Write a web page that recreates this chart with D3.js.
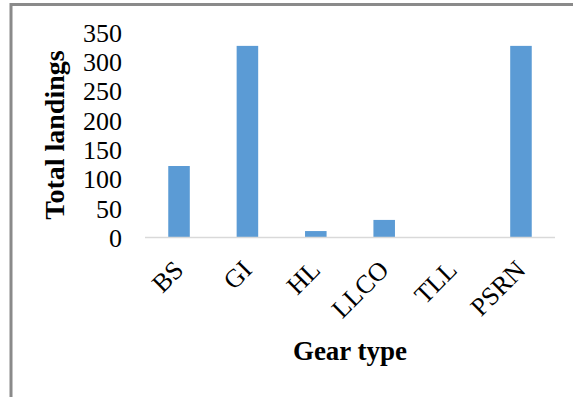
<!DOCTYPE html>
<html>
<head>
<meta charset="utf-8">
<script src="https://cdn.jsdelivr.net/npm/d3@7"></script>
<style>
  body { margin: 0; background: #fff; }
  svg { display: block; }
  text { font-family: "Liberation Serif", "Times New Roman", serif; fill: #000; }
</style>
</head>
<body>
<svg id="chart"></svg>
<script>
const gears = ["BS", "GI", "HL", "LLCO", "TLL", "PSRN"];
const landings = [122, 327, 11, 30, 0, 327];
const yTicks = [0, 50, 100, 150, 200, 250, 300, 350];

const width = 573, height = 397;
const svg = d3.select("#chart").attr("width", width).attr("height", height);

// frame (left + top edges only are visible in the original crop)
svg.append("path")
    .attr("d", `M11,${height} V4.5 H${width}`)
    .attr("fill", "none")
    .attr("stroke", "#8a8a8a")
    .attr("stroke-width", 3);

const x = d3.scaleBand().domain(gears).range([145, 555]).paddingInner(0.685).paddingOuter(0.34);
const y = d3.scaleLinear().domain([0, 350]).range([237.5, 32.4]);

// y axis labels
const yAxis = svg.append("g")
    .attr("transform", "translate(122,0)")
    .call(d3.axisLeft(y).tickValues(yTicks).tickSize(0).tickPadding(0));
yAxis.select(".domain").remove();
yAxis.selectAll("text")
    .style("font-family", "Liberation Serif")
    .style("font-size", "26px")
    .attr("dy", "0.34em");

// bars
svg.append("g").selectAll("rect")
    .data(gears)
    .join("rect")
    .attr("x", d => x(d))
    .attr("width", x.bandwidth())
    .attr("y", (d, i) => y(landings[i]))
    .attr("height", (d, i) => y(0) - y(landings[i]))
    .attr("fill", "#5b9bd5");

// x axis
const xAxis = svg.append("g")
    .attr("transform", `translate(0,${y(0)})`)
    .call(d3.axisBottom(x).tickSize(0).tickPadding(0));
xAxis.select(".domain").attr("stroke", "#d9d9d9").attr("stroke-width", 1.5)
    .attr("d", "M145,0H555");
xAxis.selectAll("text")
    .style("font-family", "Liberation Serif")
    .style("font-size", "26px")
    .attr("text-anchor", "end")
    .attr("y", 0)
    .attr("dy", "0")
    .attr("transform", "translate(6,34) rotate(-45)");

// axis titles
svg.append("text")
    .attr("transform", "translate(64,135) rotate(-90)")
    .attr("text-anchor", "middle")
    .style("font-size", "28px")
    .style("font-weight", "bold")
    .text("Total landings");

svg.append("text")
    .attr("x", 350)
    .attr("y", 360)
    .attr("text-anchor", "middle")
    .style("font-size", "27px")
    .style("font-weight", "bold")
    .text("Gear type");
</script>
</body>
</html>
